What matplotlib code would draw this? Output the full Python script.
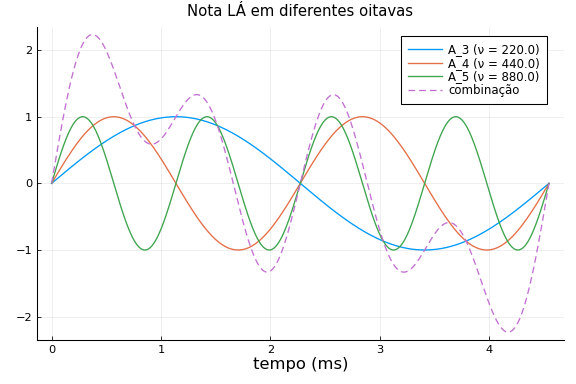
import matplotlib
matplotlib.use("Agg")
import matplotlib.pyplot as plt
import numpy as np

# notas (Hz) e rótulos da legenda
freqs = [220.0, 440.0, 880.0]
labels = ["A_3 (ν = 220.0)", "A_4 (ν = 440.0)", "A_5 (ν = 880.0)"]
colors = ["#009AFA", "#E36F47", "#3EA44E"]
comb_color = "#C371D2"
t_end_ms = 1000.0 / 220.0  # um período da nota mais grave

t = np.linspace(0, t_end_ms, 600)
waves = [np.sin(2 * np.pi * f * t / 1000.0) for f in freqs]
comb = np.sum(waves, axis=0)

fig = plt.figure(figsize=(6, 4), dpi=96)
ax = fig.add_axes([0.0637, 0.1146, 0.9153, 0.8158])

for w, lab, c in zip(waves, labels, colors):
    ax.plot(t, w, color=c, lw=1.0, label=lab)
ax.plot(t, comb, color=comb_color, lw=1.0, ls=(0, (5, 3)), label="combinação")

pad = 0.03 * t_end_ms
ax.set_xlim(-pad, t_end_ms + pad)
ax.set_ylim(-2.35, 2.35)
ax.set_xticks([0, 1, 2, 3, 4])
ax.set_yticks([-2, -1, 0, 1, 2])
ax.grid(True, color="black", alpha=0.08, lw=0.6)
ax.spines["top"].set_visible(False)
ax.spines["right"].set_visible(False)
ax.tick_params(direction="in", length=3, labelsize=8.5, width=0.6)
ax.set_xlabel("tempo (ms)", fontsize=12.3, labelpad=2)
ax.set_title("Nota LÁ em diferentes oitavas", fontsize=11.2, pad=8)

leg = ax.legend(loc="upper right", fontsize=8.8, fancybox=False, framealpha=1,
                edgecolor="black", handlelength=2.9, handletextpad=0.5,
                borderpad=0.6, labelspacing=0.05, borderaxespad=0,
                bbox_to_anchor=(0.968, 0.970))
leg.get_frame().set_linewidth(0.8)

fig.savefig("out.png", dpi=96)
